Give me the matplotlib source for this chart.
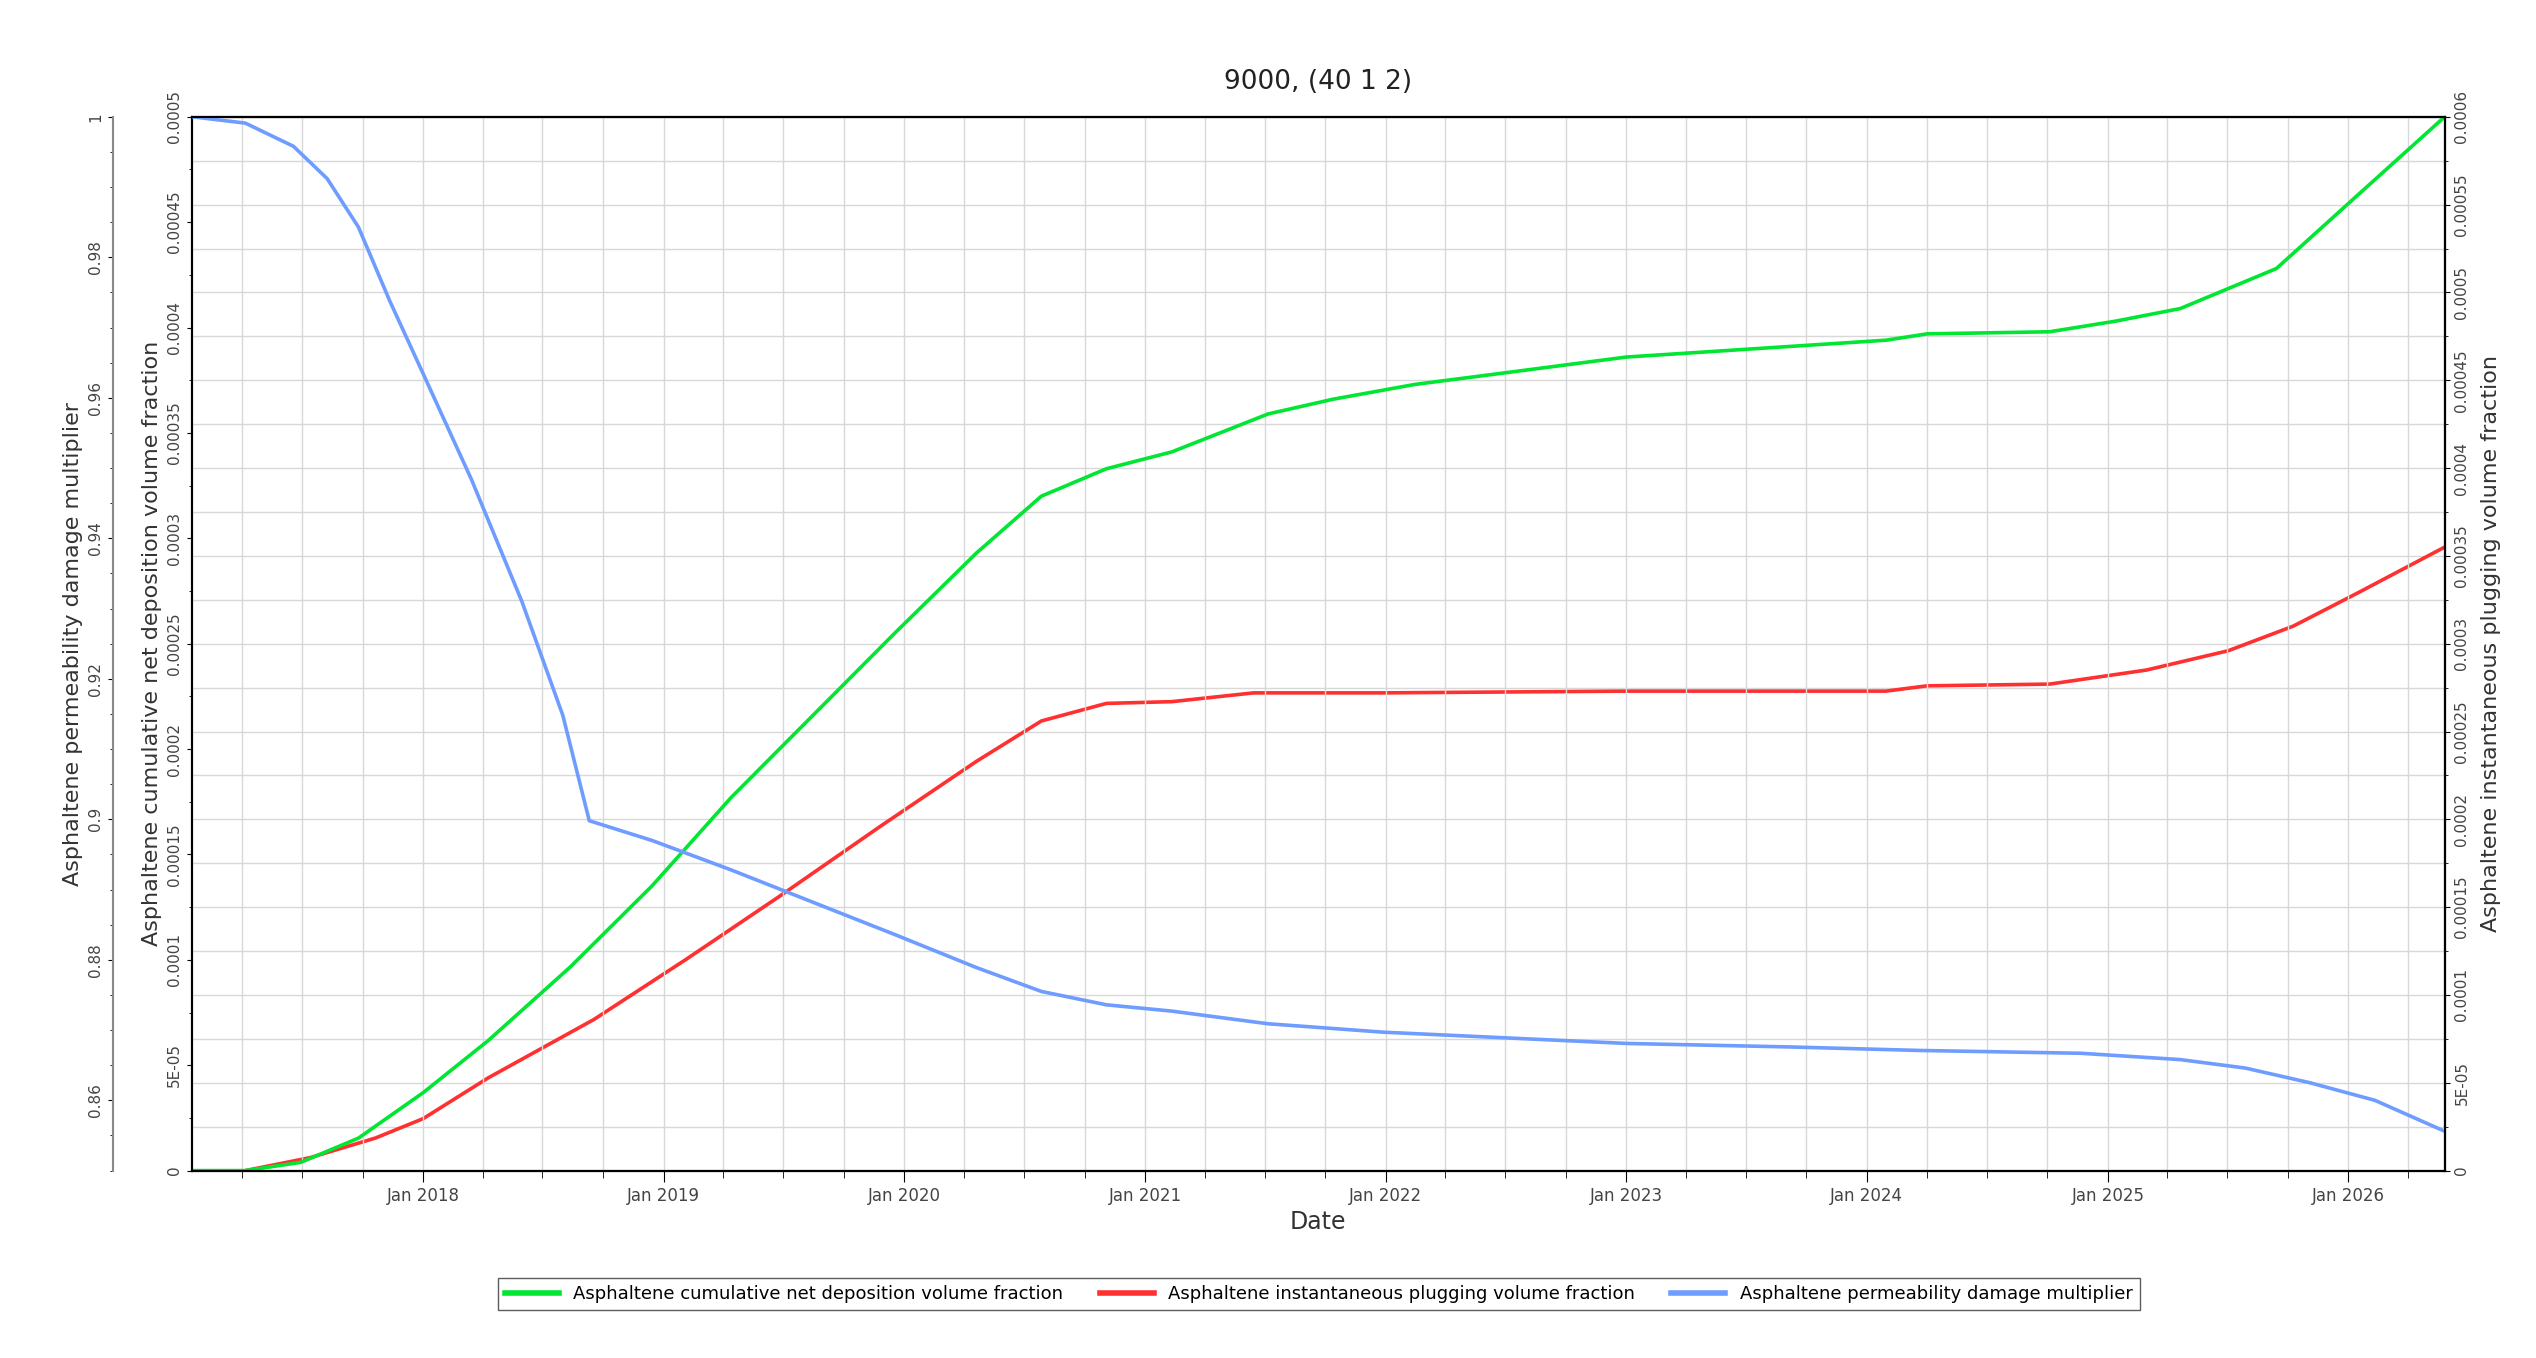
import numpy as np
import matplotlib.pyplot as plt
import matplotlib.dates as mdates
from matplotlib.ticker import MultipleLocator, FixedLocator, FuncFormatter
from datetime import datetime, timedelta

# decimal years
green_t = [2017.04, 2017.26, 2017.49, 2017.73, 2018.0, 2018.27, 2018.61, 2018.95, 2019.28, 2019.62,
           2019.96, 2020.3, 2020.57, 2020.84, 2021.11, 2021.51, 2021.78, 2022.12, 2022.46, 2023.0,
           2023.54, 2024.08, 2024.25, 2024.76, 2025.03, 2025.3, 2025.7, 2026.04, 2026.4]
green_v = [0, 0, 0.0000039, 0.0000154, 0.0000370, 0.0000617, 0.0000965, 0.000135, 0.000177, 0.000216,
           0.000255, 0.000293, 0.000320, 0.000333, 0.000341, 0.000359, 0.000366, 0.000373, 0.000378, 0.000386,
           0.000390, 0.000394, 0.000397, 0.000398, 0.000403, 0.000409, 0.000428, 0.000463, 0.0005]
red_t = [2017.26, 2017.53, 2017.8, 2018.0, 2018.27, 2018.71, 2019.09, 2019.49, 2019.9, 2020.3,
         2020.57, 2020.84, 2021.11, 2021.45, 2021.99, 2023.0, 2024.08, 2024.25, 2024.76, 2025.16,
         2025.5, 2025.77, 2026.04, 2026.4]
red_v = [0, 0.0000074, 0.0000185, 0.0000296, 0.0000528, 0.0000861, 0.000120, 0.000157, 0.000196, 0.000233,
         0.000256, 0.000266, 0.000267, 0.000272, 0.000272, 0.000273, 0.000273, 0.000276, 0.000277, 0.000285,
         0.000296, 0.000310, 0.000329, 0.000355]
blue_t = [2017.04, 2017.26, 2017.46, 2017.6, 2017.73, 2017.86, 2018.0, 2018.2, 2018.41, 2018.58,
          2018.69, 2018.95, 2019.28, 2019.62, 2019.96, 2020.3, 2020.57, 2020.84, 2021.11, 2021.51,
          2021.99, 2023.0, 2023.68, 2024.22, 2024.89, 2025.3, 2025.57, 2025.84, 2026.11, 2026.4]
blue_v = [1.0, 0.9991, 0.9958, 0.9912, 0.9843, 0.9738, 0.9634, 0.9484, 0.9310, 0.9148,
          0.8998, 0.8970, 0.8928, 0.8882, 0.8836, 0.8789, 0.8755, 0.8736, 0.8727, 0.8709,
          0.8697, 0.8681, 0.8676, 0.8671, 0.8667, 0.8658, 0.8646, 0.8625, 0.8600, 0.8556]

labels = ['Asphaltene cumulative net deposition volume fraction',
          'Asphaltene instantaneous plugging volume fraction',
          'Asphaltene permeability damage multiplier']


def to_date(y):
    year = int(y)
    start = datetime(year, 1, 1)
    return start + timedelta(days=(y - year) * 365.25)


def fmt(v, pos):
    if abs(v) < 1e-12:
        return '0'
    if abs(v) < 1e-4 - 1e-12:
        return '%dE-05' % round(v / 1e-5)
    return ('%.5f' % v).rstrip('0').rstrip('.')


fig = plt.figure(figsize=(25.36, 13.58), dpi=100)
ax = fig.add_axes([0.0757, 0.138, 0.8883, 0.776])
ax_r = ax.twinx()
ax_b = ax.twinx()

ax.plot([to_date(t) for t in green_t], green_v, color='#00e632', lw=2.6, label=labels[0])
ax_r.plot([to_date(t) for t in red_t], red_v, color='#ff3030', lw=2.6, label=labels[1])
ax_b.plot([to_date(t) for t in blue_t], blue_v, color='#6f9cff', lw=2.6, label=labels[2])

ax.set_xlim(datetime(2017, 1, 15), to_date(2026.4))
ax.set_ylim(0, 0.0005)
ax_r.set_ylim(0, 0.0006)
ax_b.set_ylim(0.85, 1.0)

ax.xaxis.set_major_locator(mdates.YearLocator())
ax.xaxis.set_major_formatter(mdates.DateFormatter('Jan %Y'))
ax.xaxis.set_minor_locator(mdates.MonthLocator(bymonth=[1, 4, 7, 10]))
ax.grid(True, which='both', axis='x', color='#d8d8d8', lw=1)
ax_r.yaxis.set_minor_locator(MultipleLocator(0.000025))
ax_r.yaxis.set_major_locator(MultipleLocator(0.00005))
ax_r.grid(True, which='both', axis='y', color='#d8d8d8', lw=1)
ax.set_zorder(ax_r.get_zorder() + 1)
ax.patch.set_visible(False)
ax_b.set_zorder(ax.get_zorder() + 1)

ax.yaxis.set_major_locator(MultipleLocator(0.00005))
ax.yaxis.set_minor_locator(MultipleLocator(0.000025))
for a in (ax, ax_r):
    a.yaxis.set_major_formatter(FuncFormatter(fmt))

ax_b.yaxis.set_label_position('left')
ax_b.yaxis.tick_left()
ax_b.spines['left'].set_position(('axes', -0.035))
ax_b.spines['left'].set_color('#888888')
ax_b.yaxis.set_major_locator(FixedLocator([0.86, 0.88, 0.9, 0.92, 0.94, 0.96, 0.98, 1.0]))
ax_b.yaxis.set_minor_locator(MultipleLocator(0.005))
ax_b.yaxis.set_major_formatter(FuncFormatter(lambda v, p: ('%.2f' % v).rstrip('0').rstrip('.')))

for a in (ax, ax_r, ax_b):
    a.tick_params(axis='y', labelsize=11, labelrotation=90, labelcolor='#444444')
    for s in a.spines.values():
        s.set_linewidth(1.5)
for t in ax.get_yticklabels() + ax_r.get_yticklabels() + ax_b.get_yticklabels():
    t.set_verticalalignment('center')
ax.tick_params(axis='x', labelsize=12, labelcolor='#444444', length=8)
ax.tick_params(axis='x', which='minor', length=5)

ax.set_xlabel('Date', fontsize=17, color='#333333')
ax.set_ylabel('Asphaltene cumulative net deposition volume fraction', fontsize=16, color='#333333', labelpad=4)
ax_r.set_ylabel('Asphaltene instantaneous plugging volume fraction', fontsize=16, color='#333333',
                rotation=90, labelpad=8)
ax_b.set_ylabel('Asphaltene permeability damage multiplier', fontsize=16, color='#333333', labelpad=4)
ax.set_title('9000, (40 1 2)', fontsize=19, color='#222222', pad=20)

handles = ax.get_lines() + ax_r.get_lines() + ax_b.get_lines()
leg = fig.legend(handles, labels, loc='center', bbox_to_anchor=(0.52, 0.047), ncol=3, fontsize=13,
                 frameon=True, fancybox=False, edgecolor='#333333', handlelength=3)
for line in leg.get_lines():
    line.set_linewidth(4)

fig.savefig('out.png', dpi=100)
